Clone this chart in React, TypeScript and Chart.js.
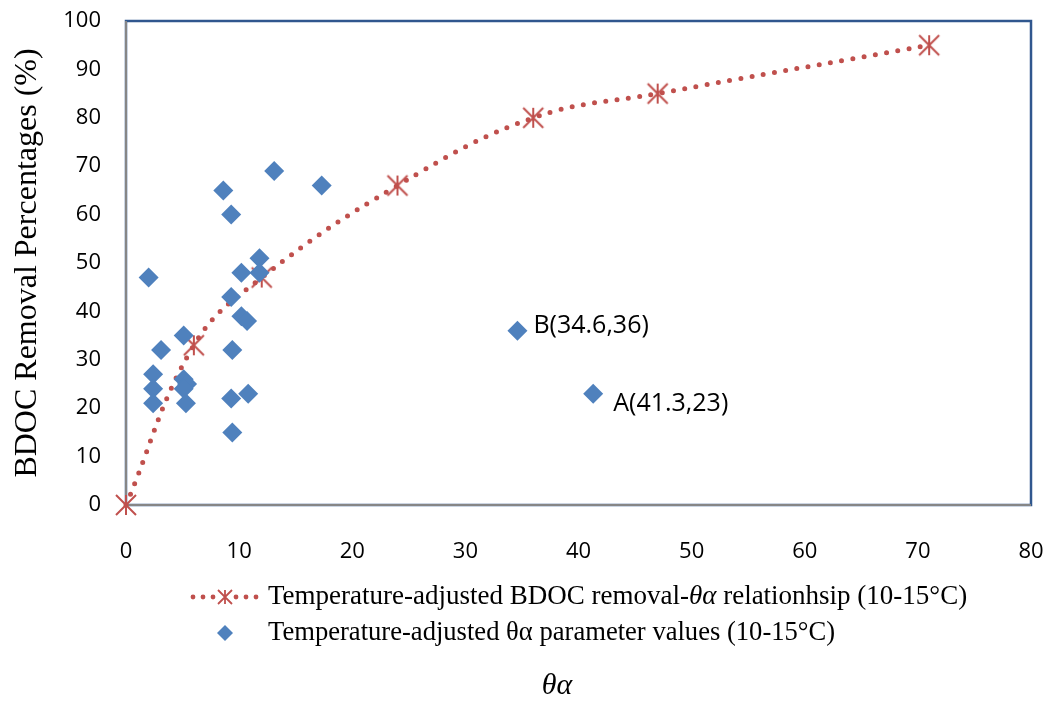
import React, { useEffect, useRef } from "react";
import { Chart, registerables } from "chart.js";

Chart.register(...registerables);

// ---- Data ----
const curveX = [0, 6, 12, 24, 36, 47, 71];
const curveY = [0, 33, 47, 66, 80, 85, 95];

const pointX = [2.0, 2.4, 2.4, 2.4, 3.1, 5.1, 5.1, 5.4, 5.1, 5.3, 8.6, 9.3, 9.3, 9.4, 9.3, 9.4, 10.2, 10.2, 10.7, 10.8, 11.8, 11.8, 13.1, 17.3, 34.6, 41.3];
const pointY = [47, 27, 24, 21, 32, 35, 26, 25, 24, 21, 65, 60, 43, 32, 22, 15, 48, 39, 38, 23, 51, 48, 69, 66, 36, 23];

const labelTexts = ["B(34.6,36)", "A(41.3,23)"];
const labelX = [34.6, 41.3];
const labelY = [36, 23];

const xMin = 0, xMax = 80, xStep = 10;
const yMin = 0, yMax = 100, yStep = 10;

const yTitle = "BDOC Removal Percentages (%)";
const xTitle = "θα";
const legend1 = ["Temperature-adjusted BDOC removal-", "θα", " relationhsip (10-15°C)"];
const legend2 = "Temperature-adjusted θα parameter values (10-15°C)";

const RED = "#C0504D";
const BLUE = "#4F81BD";

function makeStar(size: number, lw: number): HTMLCanvasElement {
  const c = document.createElement("canvas");
  c.width = size + 4;
  c.height = size + 4;
  const ctx = c.getContext("2d")!;
  const m = (size + 4) / 2;
  const h = size / 2;
  ctx.strokeStyle = RED;
  ctx.lineWidth = lw;
  ctx.beginPath();
  ctx.moveTo(m - h, m - h);
  ctx.lineTo(m + h, m + h);
  ctx.moveTo(m + h, m - h);
  ctx.lineTo(m - h, m + h);
  ctx.moveTo(m, m - h);
  ctx.lineTo(m, m + h);
  ctx.stroke();
  return c;
}

function zeroPad(s: any) {
  s.paddingLeft = 0;
  s.paddingRight = 0;
  s.paddingTop = 0;
  s.paddingBottom = 0;
}

export default function App() {
  const ref = useRef<HTMLCanvasElement | null>(null);

  useEffect(() => {
    if (!ref.current) return;
    const star = makeStar(20, 2);
    const legendStar = makeStar(14, 1.8);

    const decor = {
      id: "decor",
      beforeDatasetsDraw(chart: any) {
        const { ctx, chartArea: a } = chart;
        ctx.save();
        ctx.strokeStyle = "#30578E";
        ctx.lineWidth = 2.5;
        ctx.strokeRect(a.left, a.top, a.right - a.left, a.bottom - a.top);
        ctx.strokeStyle = "#868686";
        ctx.lineWidth = 2;
        ctx.beginPath();
        ctx.moveTo(a.left, a.top);
        ctx.lineTo(a.left, a.bottom);
        ctx.lineTo(a.right, a.bottom);
        ctx.stroke();
        ctx.restore();
      },
      afterDraw(chart: any) {
        const { ctx, chartArea: a, scales } = chart;
        ctx.save();
        // y title
        ctx.fillStyle = "#000";
        ctx.font = '32px "Liberation Serif"';
        ctx.textAlign = "center";
        ctx.textBaseline = "middle";
        ctx.translate(28, (a.top + a.bottom) / 2);
        ctx.rotate(-Math.PI / 2);
        ctx.fillText(yTitle, 0, 0);
        ctx.restore();

        ctx.save();
        ctx.fillStyle = "#000";
        ctx.font = 'italic 30px "Liberation Serif"';
        ctx.textAlign = "center";
        ctx.textBaseline = "middle";
        ctx.fillText(xTitle, 557, 686);

        // data labels
        ctx.font = '25px "Open Sans"';
        ctx.textAlign = "left";
        const offs = [[16, -5], [20, 10]];
        for (let i = 0; i < labelTexts.length; i++) {
          const px = scales.x.getPixelForValue(labelX[i]);
          const py = scales.y.getPixelForValue(labelY[i]);
          ctx.fillText(labelTexts[i], px + offs[i][0], py + offs[i][1]);
        }

        // legend
        const ly1 = 597, ly2 = 633, tx = 268;
        ctx.fillStyle = RED;
        for (const dx of [193, 203, 213, 236, 246, 256]) {
          ctx.beginPath();
          ctx.arc(dx, ly1, 2.4, 0, Math.PI * 2);
          ctx.fill();
        }
        ctx.drawImage(legendStar, 225 - legendStar.width / 2, ly1 - legendStar.height / 2);
        ctx.fillStyle = BLUE;
        ctx.beginPath();
        ctx.moveTo(225, ly2 - 8);
        ctx.lineTo(233, ly2);
        ctx.lineTo(225, ly2 + 8);
        ctx.lineTo(217, ly2);
        ctx.closePath();
        ctx.fill();

        ctx.fillStyle = "#000";
        ctx.textBaseline = "middle";
        let cx = tx;
        legend1.forEach((seg, i) => {
          ctx.font = (i === 1 ? "italic " : "") + '27px "Liberation Serif"';
          ctx.fillText(seg, cx, ly1);
          cx += ctx.measureText(seg).width;
        });
        ctx.font = '26.6px "Liberation Serif"';
        ctx.fillText(legend2, tx, ly2);
        ctx.restore();
      },
    };

    const chart = new Chart(ref.current, {
      type: "scatter",
      data: {
        datasets: [
          {
            label: "relationship",
            data: curveX.map((x, i) => ({ x, y: curveY[i] })),
            showLine: true,
            tension: 0.4,
            borderColor: RED,
            borderWidth: 5,
            borderDash: [0, 11.4],
            borderCapStyle: "round",
            pointStyle: star as any,
            pointRadius: 10,
            backgroundColor: RED,
            clip: false,
            order: 1,
          } as any,
          {
            label: "values",
            data: pointX.map((x, i) => ({ x, y: pointY[i] })),
            pointStyle: "rectRot",
            pointRadius: 10,
            backgroundColor: BLUE,
            borderColor: BLUE,
            borderWidth: 0,
            clip: false,
            order: 0,
          } as any,
        ],
      },
      options: {
        responsive: false,
        animation: false,
        layout: { autoPadding: false, padding: { top: 21, right: 16, left: 0, bottom: 0 } },
        plugins: { legend: { display: false }, tooltip: { enabled: false } },
        scales: {
          x: {
            type: "linear",
            min: xMin,
            max: xMax,
            ticks: { stepSize: xStep, padding: 26, color: "#000", font: { family: "Open Sans", size: 22 } },
            grid: { display: false },
            border: { display: false },
            afterFit: (s: any) => { s.height = 197; zeroPad(s); },
          },
          y: {
            type: "linear",
            min: yMin,
            max: yMax,
            ticks: { stepSize: yStep, padding: 17, color: "#000", font: { family: "Open Sans", size: 22 } },
            grid: { display: false },
            border: { display: false },
            afterFit: (s: any) => { s.width = 126; zeroPad(s); },
          },
        },
      },
      plugins: [decor],
    });
    return () => chart.destroy();
  }, []);

  return (
    <div style={{ position: "absolute", left: 0, top: 0, width: 1047, height: 702, background: "#fff" }}>
      <canvas ref={ref} width={1047} height={702} />
    </div>
  );
}
